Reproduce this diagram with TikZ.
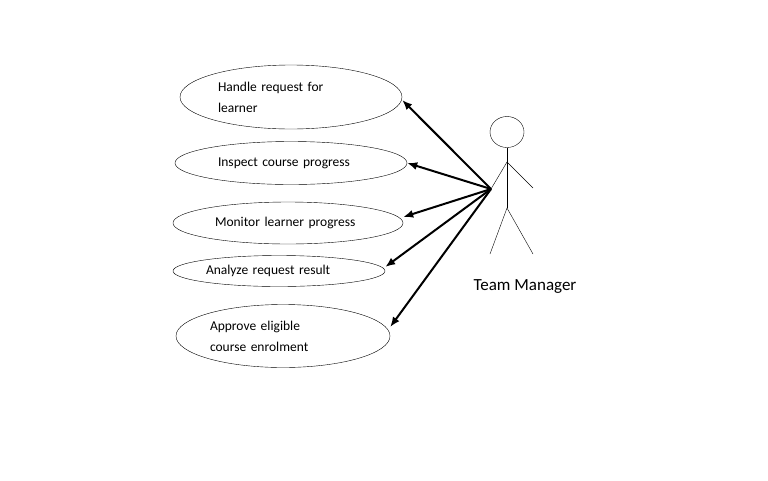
\documentclass[tikz,border=0pt]{standalone}
\usepackage{fontspec}
\setmainfont{Carlito}
\usetikzlibrary{shapes.geometric,arrows.meta}

\begin{document}
\begin{tikzpicture}[x=1pt,y=-1pt,
    usecase/.style={draw,ellipse,inner sep=0pt,text width=146pt,align=left,font=\fontsize{13.5}{21}\selectfont},
    assoc/.style={-{Latex[length=10pt,width=8pt]},line width=2pt}]
  \useasboundingbox (0,0) rectangle (768,480);
  % use cases
  \node[usecase,minimum width=222pt,minimum height=64pt] (handle) at (291,97) {Handle request for\\learner};
  \node[usecase,minimum width=232pt,minimum height=43pt] (inspect) at (291,163) {Inspect course progress};
  \node[usecase,minimum width=230pt,minimum height=42pt] (monitor) at (288,223) {Monitor learner progress};
  \node[usecase,minimum width=212pt,minimum height=31pt] (analyze) at (279,271) {Analyze request result};
  \node[usecase,minimum width=214pt,minimum height=63pt] (approve) at (283,336) {Approve eligible\\course enrolment};
  % actor
  \node[draw,ellipse,minimum width=34pt,minimum height=31pt,inner sep=0pt] (head) at (507,132) {};
  \coordinate (neck) at (507,162);
  \coordinate (hip) at (507,208);
  \coordinate (hand) at (491,189);
  \draw (head.south) -- (hip);
  \draw (hand) -- (neck) -- (533,188);
  \draw (490,254) -- (hip) -- (533,254);
  \node[font=\fontsize{17}{20}\selectfont] (actor) at (525,287) {Team Manager};
  % associations
  \draw[assoc] (hand) -- ([yshift=-3pt]handle.east);
  \draw[assoc] (hand) -- (inspect.east);
  \draw[assoc] (hand) -- ([yshift=6pt]monitor.east);
  \draw[assoc] (hand) -- ([yshift=4pt]analyze.east);
  \draw[assoc] (hand) -- ([yshift=9pt]approve.east);
\end{tikzpicture}
\end{document}
